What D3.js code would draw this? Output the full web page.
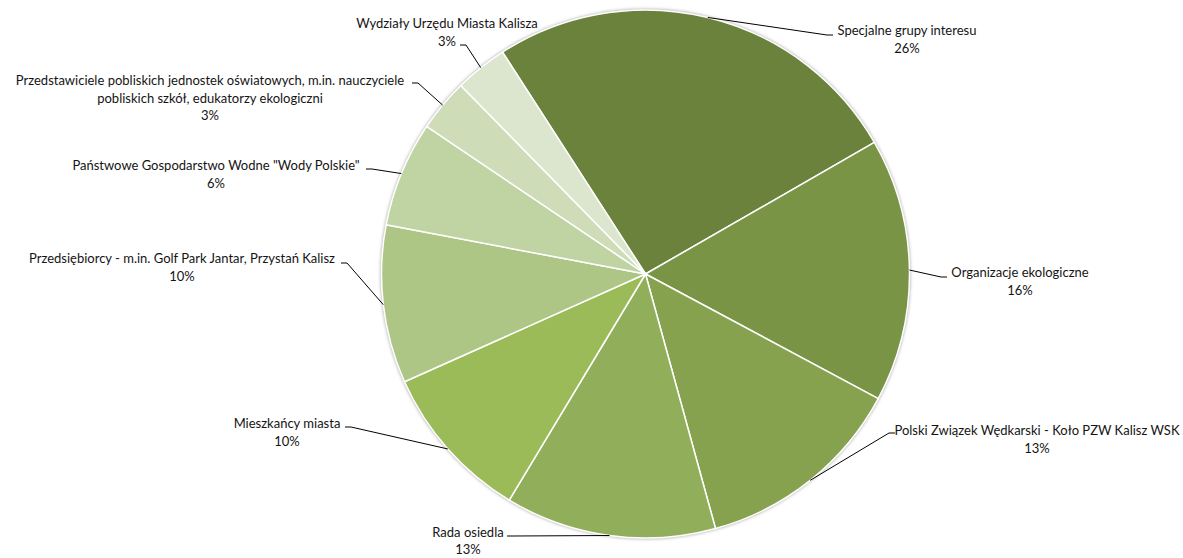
<!DOCTYPE html>
<html>
<head>
<meta charset="utf-8">
<script src="https://cdn.jsdelivr.net/npm/d3@7/dist/d3.min.js"></script>
<style>
  html, body { margin: 0; padding: 0; background: #ffffff; }
  svg { display: block; }
  text { font-family: Lato, "Open Sans", sans-serif; fill: #141414; }
</style>
</head>
<body>
<svg id="chart" width="1183" height="558"></svg>
<script>
// Stakeholder groups (number of participants in each group)
const categories = [
  "Specjalne grupy interesu",
  "Organizacje ekologiczne",
  "Polski Związek Wędkarski - Koło PZW Kalisz WSK",
  "Rada osiedla",
  "Mieszkańcy miasta",
  "Przedsiębiorcy - m.in. Golf Park Jantar, Przystań Kalisz",
  "Państwowe Gospodarstwo Wodne \"Wody Polskie\"",
  "Przedstawiciele pobliskich jednostek oświatowych, m.in. nauczyciele pobliskich szkół, edukatorzy ekologiczni",
  "Wydziały Urzędu Miasta Kalisza"
];
const counts = [8, 5, 4, 4, 3, 3, 2, 1, 1];

// Line breaks used for the data labels
const labelLines = [
  ["Specjalne grupy interesu"],
  ["Organizacje ekologiczne"],
  ["Polski Związek Wędkarski - Koło PZW Kalisz WSK"],
  ["Rada osiedla"],
  ["Mieszkańcy miasta"],
  ["Przedsiębiorcy - m.in. Golf Park Jantar, Przystań Kalisz"],
  ["Państwowe Gospodarstwo Wodne \"Wody Polskie\""],
  ["Przedstawiciele pobliskich jednostek oświatowych, m.in. nauczyciele", "pobliskich szkół, edukatorzy ekologiczni"],
  ["Wydziały Urzędu Miasta Kalisza"]
];

const colors = ["#6a823b", "#7a9446", "#86a24e", "#91ae5a", "#9bbb59",
                "#aec685", "#c0d3a2", "#cfdcb8", "#dce5cd"];

// Label placement: block centre x, first baseline y, leader start point, elbow direction
const labelLayout = [
  { cx: 907,  y: 35,  lx: 833, ly: 35,  dir: -1 },
  { cx: 1020, y: 277, lx: 947, ly: 277, dir: -1 },
  { cx: 1037, y: 435, lx: 895, ly: 433, dir: -1 },
  { cx: 468,  y: 537, lx: 507, ly: 536, dir: 1 },
  { cx: 287,  y: 428, lx: 345, ly: 427, dir: 1 },
  { cx: 182,  y: 263, lx: 341, ly: 263, dir: 1 },
  { cx: 216,  y: 170, lx: 366, ly: 169, dir: 1 },
  { cx: 210,  y: 85,  lx: 412, ly: 83,  dir: 1 },
  { cx: 447,  y: 28,  lx: 460, ly: 45,  dir: 1 }
];

const width = 1183, height = 558;
const cx = 645.5, cy = 274, radius = 264;
const startAngle = -32.8 * Math.PI / 180;
const lineHeight = 17.5;
const fontSize = 13;

const total = d3.sum(counts);
const data = categories.map((c, i) => ({ name: c, value: counts[i], i }));

const svg = d3.select("#chart");

const defs = svg.append("defs");
const shadow = defs.append("filter").attr("id", "pieShadow")
  .attr("x", "-10%").attr("y", "-10%").attr("width", "120%").attr("height", "120%");
shadow.append("feGaussianBlur").attr("stdDeviation", 1.6);

const g = svg.append("g").attr("transform", `translate(${cx},${cy})`);

// soft outline behind the pie
g.append("circle")
  .attr("r", radius + 1.2)
  .attr("fill", "#b8b8b8")
  .attr("filter", "url(#pieShadow)");

const pie = d3.pie()
  .value(d => d.value)
  .sort(null)
  .startAngle(startAngle)
  .endAngle(startAngle + 2 * Math.PI);

const arc = d3.arc().innerRadius(0).outerRadius(radius);
const arcs = pie(data);

g.selectAll("path.slice")
  .data(arcs)
  .join("path")
  .attr("class", "slice")
  .attr("d", arc)
  .attr("fill", d => colors[d.data.i])
  .attr("stroke", "#ffffff")
  .attr("stroke-width", 1.5)
  .attr("stroke-linejoin", "round");

const fmt = d3.format(".0%");

// leader lines
const leaders = svg.append("g");
arcs.forEach((a, k) => {
  const L = labelLayout[k];
  const mid = (a.startAngle + a.endAngle) / 2;
  const px = cx + radius * Math.sin(mid);
  const py = cy - radius * Math.cos(mid);
  const ex = L.lx + L.dir * 6;
  leaders.append("path")
    .attr("d", `M${L.lx},${L.ly}L${ex},${L.ly}L${px},${py}`)
    .attr("fill", "none")
    .attr("stroke", "#000000")
    .attr("stroke-width", 1);
});

// labels
const labels = svg.append("g");
arcs.forEach((a, k) => {
  const L = labelLayout[k];
  const lines = labelLines[k].concat([fmt(a.data.value / total)]);
  const t = labels.append("text")
    .attr("text-anchor", "middle")
    .attr("font-size", fontSize);
  lines.forEach((s, j) => {
    t.append("tspan")
      .attr("x", L.cx)
      .attr("y", L.y + j * (k === 3 ? 16.5 : lineHeight))
      .text(s);
  });
});
</script>
</body>
</html>
